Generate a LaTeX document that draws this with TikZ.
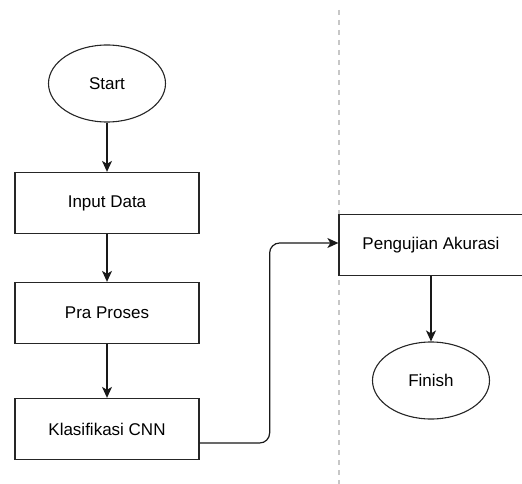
\documentclass[tikz,border=0pt]{standalone}
\usepackage{fontspec}
\setmainfont{Liberation Sans}
\usetikzlibrary{shapes.geometric,arrows.meta}

\begin{document}
\begin{tikzpicture}[x=1pt,y=-1pt,
  every node/.style={font=\fontsize{17}{20}\selectfont, text=black},
  procbox/.style={draw=black!85, line width=1.3pt, rectangle, minimum width=184pt, minimum height=61pt, inner sep=0pt},
  terminal/.style={draw=black!85, line width=1.1pt, ellipse, minimum width=117pt, minimum height=77pt, inner sep=0pt},
  flow/.style={draw=black!90, line width=1.2pt, -{Stealth[length=11pt,width=10pt,inset=3pt]}},
  divider/.style={draw=black!22, line width=1.8pt, dash pattern=on 5pt off 5pt}
]
\useasboundingbox (0,0) rectangle (522,484);

% swimlane divider
\coordinate (lanetop) at (339,10);
\coordinate (lanebot) at (339,484);
\draw[divider] (lanetop) -- (lanebot);

% left column
\node[terminal] (start) at (107,83.5) {Start};
\node[procbox] (input) at (107,203) {Input Data};
\node[procbox] (pra)   at (107,313) {Pra Proses};
\node[procbox] (klas)  at (107,429) {Klasifikasi CNN};

% right column
\node[procbox, fill=white] (uji) at (431,245) {Pengujian Akurasi};
\node[terminal] (finish) at (431,380.5) {Finish};

% connectors
\draw[flow] (start) -- (input);
\draw[flow] (input) -- (pra);
\draw[flow] (pra) -- (klas);
\draw[flow, rounded corners=10pt] ([yshift=-14pt]klas.east) -- ++(70,0) |- ([yshift=2pt]uji.west);
\draw[flow] (uji) -- (finish);
\end{tikzpicture}
\end{document}
